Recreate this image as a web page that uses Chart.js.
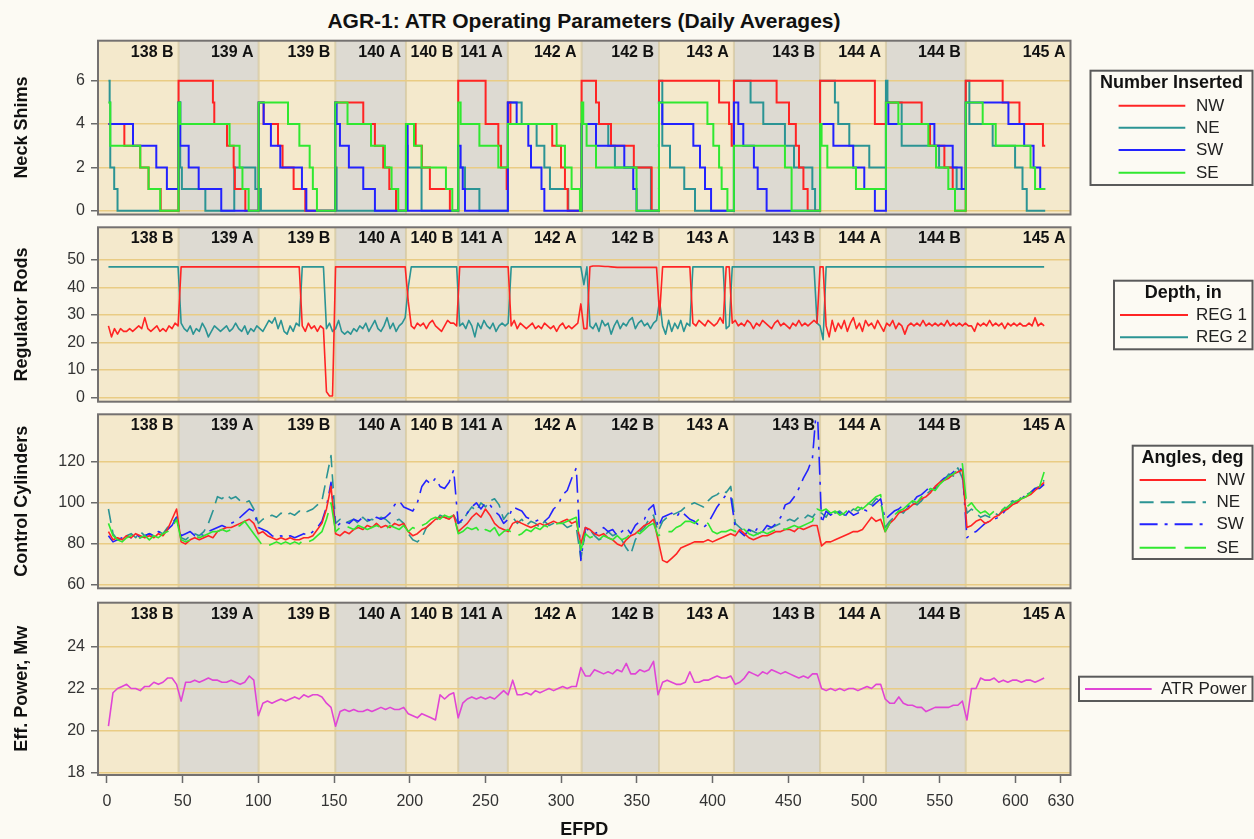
<!DOCTYPE html>
<html>
<head>
<meta charset="utf-8">
<title>AGR-1: ATR Operating Parameters</title>
<script src="https://cdn.jsdelivr.net/npm/chart.js@4.4.1/dist/chart.umd.min.js"></script>
<style>
  html, body { margin: 0; padding: 0; background: #fcfaf3; overflow: hidden; }
  #page { position: relative; width: 1254px; height: 839px; overflow: hidden; background: #fcfaf3; }
  #page canvas { position: absolute; left: 0; }
  #title { position: absolute; left: 0; top: 9px; width: 1168px; text-align: center;
           font: bold 21px "Liberation Sans", Arial, Helvetica, sans-serif; color: #111; line-height: 24px; }
</style>
</head>
<body>
<div id="page">
  <div id="title">AGR-1: ATR Operating Parameters (Daily Averages)</div>
  <canvas id="shims"></canvas>
  <canvas id="rods"></canvas>
  <canvas id="cyl"></canvas>
  <canvas id="power"></canvas>
</div>
<script>
// ---------- reactor cycles: name and the EFPD at which each one ends ----------
const cycleNames  = ['138 B','139 A','139 B','140 A','140 B','141 A','142 A','142 B','143 A','143 B','144 A','144 B','145 A'];
const cycleBreaks = [47.3, 100.2, 150.8, 197.5, 232, 264.8, 313.5, 364.6, 414.1, 471, 514.5, 567.2];

// ---------- EFPD axis ticks ----------
const efpdTicks = [0, 50, 100, 150, 200, 250, 300, 350, 400, 450, 500, 550, 600, 630];

// ---------- neck shims inserted: [EFPD, number] at every change ----------
const shimNW = [[1,4],[11.5,3],[22,2],[27.5,1],[35.5,0],[47.3,6],[70,5],[70.9,4],[79.3,3],[83.7,2],[84.5,1],[91.4,0],
  [100.2,5],[103.5,4],[113,3],[116,2],[123.3,1],[131,0],[150.8,5],[169.3,4],[177,3],[182.5,2],[186.5,1],[190.9,0],
  [197.5,4],[203.9,3],[208,2],[213.3,1],[226.5,0],[232,6],[250.1,4],[258.5,3],[260.3,2],[264,1],
  [264.8,5],[266.5,4],[294.1,3],[299.9,2],[302.5,1],[304.3,0],[313.5,6],[323,5],[325,4],[332.9,3],[348,2],[359.8,0],
  [364.6,6],[404.3,5],[410.9,4],[412.6,3],[414.1,6],[442.3,5],[450.5,4],[455,3],[457.1,2],[460,1],[462.8,0],
  [471,6],[507.2,4],[514.5,5],[538.1,4],[543.6,3],[553.1,2],[558.6,1],[560.1,0],
  [567.2,6],[591.6,5],[602.7,4],[618.2,3],[619.7,3]];
const shimNE = [[1,6],[1.8,5],[2.2,2],[4.8,1],[7,0],[47.3,5],[48.4,2],[49.5,1],[65,0],[84.1,2],[98,1],[101.7,0],
  [150.8,2],[151.7,0],[197.5,3],[198.6,2],[207.8,0],[232,2],[236.5,1],[246,0],
  [264.8,5],[273.9,4],[283.8,3],[288.9,2],[292.6,1],[304.7,0],[313.5,4],[331.1,3],[335.5,2],[359.3,0],
  [364.6,6],[366.8,3],[371.9,2],[381.3,1],[388.4,0],[414.1,6],[425.1,5],[433.5,4],[447.8,3],[453.8,2],[465.9,1],[467.7,0],
  [471,6],[480.8,5],[483,4],[490.3,3],[503.5,2],[514.5,6],[515.5,5],[524.9,3],[549.6,2],[561.2,1],
  [567.2,6],[569.6,4],[585,3],[599.8,2],[604.7,1],[607.5,0],[619.7,0]];
const shimSW = [[1,4],[17.2,3],[32.6,2],[39.6,1],[47.3,5],[48.4,3],[54,2],[60.6,1],[75.5,0],
  [100.2,5],[103.5,4],[108.3,3],[114.5,2],[128.8,1],[131.7,0],[150.8,5],[151.7,4],[153.9,3],[159.8,2],[169.3,1],[177,0],
  [197.5,4],[198.6,0],[232,3],[233.6,2],[235,1],[236.5,0],[264.8,5],[270.6,4],[278.3,3],[280.1,2],[287,1],[288.9,0],
  [313.5,4],[323,3],[341.7,2],[347.6,1],[349.8,0],[364.6,5],[366.8,4],[387.3,3],[391.7,2],[395,1],[399,0],
  [414.1,5],[417,4],[420.3,3],[427.3,2],[429.8,1],[435.7,0],[471,4],[479.8,3],[492.9,2],[500.2,1],[507.2,0],
  [514.5,5],[516.1,4],[546.5,3],[558.6,2],[564.5,1],[567.2,5],[595.4,4],[605.8,3],[612,2],[616.4,1],[619.7,1]];
const shimSE = [[1,5],[2.2,3],[22,2],[27.5,1],[35.2,0],[47.3,5],[48.4,4],[81,3],[87.6,2],[89.5,1],[93.6,0],
  [100.2,5],[119.6,4],[127.1,3],[133.9,2],[136,1],[138.7,0],[150.8,5],[158.9,4],[174.4,3],[183.6,2],[188,1],[192.4,0],
  [197.5,4],[202.8,3],[207.8,2],[223.9,1],[228.1,0],[232,5],[233.6,4],[246,3],[258.5,2],
  [264.8,4],[297,3],[302.5,2],[306.9,1],[312.4,0],[313.5,5],[314.6,4],[316.8,3],[323,2],[349.8,0],
  [364.6,5],[396.6,4],[400.5,3],[404.3,2],[406,1],[409.8,0],[414.1,3],[447.8,2],[452.2,0],
  [471,4],[472,3],[475.8,2],[494.7,1],[514.5,5],[522.7,4],[542.5,3],[547.6,2],[555.7,1],[560.1,0],
  [567.2,5],[578.4,4],[587,3],[610,2],[613,1],[619.7,1]];

// ---------- regulator rod depth, in: one value every 2nd EFPD starting at day 1 ----------
const rodDays = Array.from({ length: 310 }, (_, i) => 1 + 2 * i);
const reg1 = [
  26, 22, 25, 23, 25, 24, 24, 25, 24, 25,
  26, 25, 29, 25, 24, 25, 26, 24, 25, 24,
  26, 25, 27, 26, 47.5, 47.5, 47.5, 47.5, 47.5, 47.5,
  47.5, 47.5, 47.5, 47.5, 47.5, 47.5, 47.5, 47.5, 47.5, 47.5,
  47.5, 47.5, 47.5, 47.5, 47.5, 47.5, 47.5, 47.5, 47.5, 47.5,
  47.5, 47.5, 47.5, 47.5, 47.5, 47.5, 47.5, 47.5, 47.5, 47.5,
  47.5, 47.5, 47.5, 47.5, 26, 24, 27, 25, 26, 24,
  26, 25, 2, 0.5, 0.5, 47.5, 47.5, 47.5, 47.5, 47.5,
  47.5, 47.5, 47.5, 47.5, 47.5, 47.5, 47.5, 47.5, 47.5, 47.5,
  47.5, 47.5, 47.5, 47.5, 47.5, 47.5, 47.5, 47.5, 47.5, 35,
  26, 25, 27, 26, 27, 25, 27, 28, 26, 25,
  24, 26, 28, 27, 27, 26, 47.5, 47.5, 47.5, 47.5,
  47.5, 47.5, 47.5, 47.5, 47.5, 47.5, 47.5, 47.5, 47.5, 47.5,
  47.5, 47.5, 47.5, 26, 28, 25, 27, 26, 25, 26,
  27, 25, 26, 25, 27, 26, 25, 26, 24, 26,
  27, 25, 26, 25, 26, 27, 34, 25, 25, 47.5,
  47.8, 47.8, 47.8, 47.7, 47.6, 47.6, 47.5, 47.4, 47.3, 47.3,
  47.3, 47.3, 47.3, 47.3, 47.3, 47.3, 47.3, 47.3, 47.3, 47.3,
  47.3, 47.3, 30, 47.5, 47.5, 47.5, 47.5, 47.5, 47.5, 47.5,
  47.5, 47.5, 47.5, 27, 26, 28, 27, 26, 28, 27,
  26, 27, 29, 27, 47.5, 47.5, 27, 28, 26, 27,
  26, 28, 27, 25, 27, 26, 28, 27, 26, 25,
  27, 28, 26, 27, 26, 25, 27, 26, 28, 26,
  27, 26, 27, 28, 27, 47.5, 47.5, 26, 22, 28,
  24, 27, 25, 28, 24, 27, 29, 25, 27, 24,
  28, 26, 27, 25, 28, 26, 24, 27, 26, 28,
  25, 27, 26, 23, 26, 27, 26, 27, 26, 28,
  26, 27, 26, 27, 26, 27, 26, 28, 26, 27,
  26, 27, 26, 27, 26, 26, 24, 27, 26, 27,
  26, 28, 26, 27, 26, 27, 25, 27, 26, 27,
  26, 27, 26, 26, 27, 26, 29, 26, 27, 26
];
const reg2 = [
  47.5, 47.5, 47.5, 47.5, 47.5, 47.5, 47.5, 47.5, 47.5, 47.5,
  47.5, 47.5, 47.5, 47.5, 47.5, 47.5, 47.5, 47.5, 47.5, 47.5,
  47.5, 47.5, 47.5, 47.5, 27, 25, 24, 26, 23, 25,
  24, 27, 25, 22, 24, 26, 25, 24, 25, 26,
  24, 25, 27, 25, 24, 26, 23, 25, 24, 26,
  25, 24, 26, 28, 27, 29, 25, 28, 24, 23,
  26, 24, 27, 26, 47.5, 47.5, 47.5, 47.5, 47.5, 47.5,
  47.5, 47.5, 25, 27, 24, 25, 28, 24, 23, 24,
  23, 25, 24, 26, 25, 27, 24, 26, 28, 25,
  24, 26, 29, 25, 27, 24, 26, 27, 29, 40,
  47.5, 47.5, 47.5, 47.5, 47.5, 47.5, 47.5, 47.5, 47.5, 47.5,
  47.5, 47.5, 47.5, 47.5, 47.5, 47.5, 26, 27, 25, 28,
  26, 22, 27, 25, 28, 26, 25, 27, 24, 26,
  27, 26, 27, 47.5, 47.5, 47.5, 47.5, 47.5, 47.5, 47.5,
  47.5, 47.5, 47.5, 47.5, 47.5, 47.5, 47.5, 47.5, 47.5, 47.5,
  47.5, 47.5, 47.5, 47.5, 47.5, 47.5, 47.5, 41, 47.5, 26,
  25, 27, 24, 28, 26, 27, 23, 26, 28, 25,
  27, 26, 28, 29, 25, 27, 28, 26, 27, 25,
  27, 28, 35, 26, 23, 28, 24, 27, 25, 28,
  24, 27, 26, 47.5, 47.5, 47.5, 47.5, 47.5, 47.5, 47.5,
  47.5, 47.5, 47.5, 47.5, 25, 26, 47.5, 47.5, 47.5, 47.5,
  47.5, 47.5, 47.5, 47.5, 47.5, 47.5, 47.5, 47.5, 47.5, 47.5,
  47.5, 47.5, 47.5, 47.5, 47.5, 47.5, 47.5, 47.5, 47.5, 47.5,
  47.5, 47.5, 47.5, 47.5, 27, 26, 21, 47.5, 47.5, 47.5,
  47.5, 47.5, 47.5, 47.5, 47.5, 47.5, 47.5, 47.5, 47.5, 47.5,
  47.5, 47.5, 47.5, 47.5, 47.5, 47.5, 47.5, 47.5, 47.5, 47.5,
  47.5, 47.5, 47.5, 47.5, 47.5, 47.5, 47.5, 47.5, 47.5, 47.5,
  47.5, 47.5, 47.5, 47.5, 47.5, 47.5, 47.5, 47.5, 47.5, 47.5,
  47.5, 47.5, 47.5, 47.5, 47.5, 47.5, 47.5, 47.5, 47.5, 47.5,
  47.5, 47.5, 47.5, 47.5, 47.5, 47.5, 47.5, 47.5, 47.5, 47.5,
  47.5, 47.5, 47.5, 47.5, 47.5, 47.5, 47.5, 47.5, 47.5, 47.5
];

// ---------- control cylinder angles (deg) and ATR power (MW): every 3rd EFPD from day 1 ----------
const cylDays = Array.from({ length: 207 }, (_, i) => 1 + 3 * i);
const cylNW = [
  86, 82, 83, 82, 84, 83, 85, 84, 83, 84,
  83, 85, 84, 87, 92, 97, 81, 80, 82, 83,
  82, 83, 84, 83, 86, 87, 88, 88, 89, 90,
  91, 92, 90, 85, 86, 84, 83, 82, 83, 82,
  83, 82, 82, 83, 83, 84, 87, 90, 97, 108,
  85, 84, 86, 85, 87, 88, 87, 89, 88, 90,
  88, 89, 88, 90, 89, 90, 86, 84, 85, 87,
  88, 90, 92, 93, 93, 92, 94, 86, 88, 90,
  93, 95, 93, 97, 94, 90, 88, 87, 86, 90,
  91, 90, 89, 88, 89, 90, 89, 90, 91, 90,
  91, 92, 90, 91, 80, 88, 87, 85, 84, 85,
  83, 82, 80, 79, 82, 84, 85, 87, 89, 90,
  92, 82, 72, 71, 73, 75, 78, 79, 80, 81,
  81, 81, 82, 81, 82, 83, 84, 85, 84, 87,
  85, 83, 82, 83, 84, 84, 85, 86, 86, 87,
  87, 86, 88, 87, 88, 89, 89, 79, 81, 81,
  82, 83, 84, 85, 86, 86, 87, 90, 93, 91,
  92, 86, 90, 92, 95, 96, 97, 99, 100, 102,
  103, 105, 108, 110, 111, 112, 114, 115, 116, 88,
  89, 91, 92, 90, 91, 93, 94, 96, 97, 99,
  100, 102, 103, 104, 106, 108, 110
];
const cylNE = [
  97, 85, 82, 83, 84, 85, 83, 86, 84, 85,
  84, 86, 85, 88, 90, 93, 83, 82, 84, 85,
  84, 86, 90, 96, 103, 102, 104, 102, 103, 101,
  100, 101, 97, 90, 92, 93, 94, 93, 95, 94,
  95, 94, 96, 95, 96, 97, 99, 101, 112, 123,
  90, 92, 90, 91, 92, 90, 93, 91, 92, 91,
  93, 92, 90, 91, 92, 90, 85, 82, 81, 83,
  88, 90, 91, 94, 93, 92, 94, 90, 91, 95,
  98, 96, 100, 98, 101, 102, 99, 92, 95, 93,
  90, 92, 89, 91, 90, 88, 91, 89, 90, 91,
  90, 88, 89, 88, 73, 86, 87, 84, 82, 83,
  86, 84, 85, 82, 78, 75, 82, 86, 88, 92,
  94, 86, 91, 93, 94, 95, 96, 98, 99, 100,
  99, 98, 101, 103, 104, 106, 105, 108, 90, 88,
  86, 87, 86, 85, 86, 87, 88, 89, 90, 91,
  92, 91, 93, 92, 94, 93, 96, 95, 93, 97,
  95, 96, 94, 95, 97, 96, 98, 100, 99, 102,
  101, 88, 91, 93, 96, 95, 98, 100, 99, 101,
  104, 106, 107, 109, 111, 114, 113, 117, 112, 95,
  97, 95, 93, 94, 93, 95, 94, 97, 99, 101,
  100, 103, 104, 105, 107, 108, 111
];
const cylSW = [
  84, 81, 82, 83, 84, 83, 85, 83, 84, 85,
  84, 86, 85, 87, 89, 93, 84, 85, 86, 84,
  85, 84, 86, 87, 88, 89, 88, 90, 91, 93,
  95, 97, 96, 88, 87, 86, 84, 83, 84, 83,
  84, 83, 84, 85, 84, 86, 88, 91, 98, 110,
  88, 90, 91, 90, 92, 91, 93, 92, 91, 93,
  92, 93, 95, 99, 101, 98, 97, 96, 100, 108,
  111, 109, 112, 108, 107, 110, 116, 90, 92, 95,
  98, 100, 97, 100, 99, 96, 94, 90, 92, 98,
  97, 96, 93, 92, 91, 92, 91, 93, 97, 99,
  104, 106, 112, 117, 72, 88, 86, 85, 86, 88,
  86, 87, 84, 86, 88, 85, 89, 91, 92, 97,
  99, 88, 93, 94, 95, 93, 96, 94, 92, 91,
  89, 88, 90, 94, 98, 101, 104, 103, 88, 86,
  84, 87, 85, 88, 86, 89, 88, 90, 93, 99,
  100, 103, 107, 112, 116, 122, 150, 90, 96, 94,
  96, 95, 93, 96, 94, 95, 97, 96, 98, 100,
  102, 92, 94, 96, 97, 99, 98, 100, 103, 104,
  106, 108, 107, 110, 112, 113, 115, 117, 116, 83,
  85, 86, 88, 90, 91, 92, 93, 95, 98, 100,
  101, 102, 104, 105, 107, 107, 109
];
const cylSE = [
  90, 84, 82, 81, 83, 84, 82, 83, 84, 82,
  84, 83, 85, 86, 88, 92, 82, 81, 82, 84,
  83, 84, 85, 86, 86, 87, 86, 87, 88, 89,
  91, 88, 85, 82, 79, 79, 80, 81, 80, 81,
  80, 81, 80, 82, 81, 82, 84, 86, 92, 100,
  86, 88, 89, 88, 87, 89, 88, 87, 88, 89,
  88, 87, 89, 88, 87, 89, 86, 88, 87, 89,
  90, 92, 93, 92, 94, 93, 94, 85, 86, 88,
  87, 88, 85, 87, 86, 88, 84, 86, 87, 85,
  84, 85, 87, 86, 88, 87, 89, 88, 89, 90,
  90, 91, 92, 93, 77, 85, 83, 84, 82, 84,
  83, 82, 84, 82, 83, 85, 86, 85, 87, 89,
  90, 84, 85, 86, 86, 88, 89, 91, 91, 90,
  92, 91, 90, 86, 85, 86, 86, 87, 86, 88,
  87, 85, 84, 85, 86, 85, 86, 87, 88, 87,
  88, 89, 88, 89, 90, 91, 97, 96, 97, 95,
  96, 94, 95, 97, 96, 98, 97, 99, 101, 103,
  104, 86, 90, 94, 96, 97, 99, 101, 100, 103,
  105, 107, 106, 109, 111, 113, 114, 116, 119, 98,
  100, 97, 95, 96, 94, 96, 95, 97, 98, 100,
  101, 102, 103, 105, 106, 108, 115
];
const atrPower = [
  20.2, 21.8, 22.0, 22.1, 22.2, 22.0, 22.0, 21.9, 22.1, 22.1,
  22.3, 22.2, 22.3, 22.5, 22.5, 22.2, 21.4, 22.3, 22.3, 22.4,
  22.3, 22.4, 22.5, 22.4, 22.4, 22.3, 22.3, 22.4, 22.3, 22.2,
  22.3, 22.6, 22.4, 20.7, 21.3, 21.4, 21.3, 21.4, 21.5, 21.4,
  21.5, 21.6, 21.5, 21.7, 21.6, 21.7, 21.7, 21.6, 21.3, 21.1,
  20.2, 20.9, 21.0, 20.9, 21.0, 20.9, 20.9, 21.0, 20.9, 21.0,
  21.1, 21.0, 21.1, 21.0, 21.0, 21.1, 20.8, 20.7, 20.6, 20.8,
  20.7, 20.6, 20.5, 21.7, 21.5, 21.7, 21.8, 20.6, 21.3, 21.5,
  21.6, 21.5, 21.6, 21.5, 21.6, 21.5, 21.7, 21.9, 21.7, 22.4,
  21.7, 21.7, 21.8, 21.7, 21.9, 21.8, 21.9, 22.0, 21.9, 22.0,
  22.1, 22.0, 22.1, 22.1, 23.0, 22.6, 22.6, 22.9, 22.8, 22.7,
  22.8, 22.7, 22.9, 22.8, 23.2, 22.7, 22.7, 22.9, 22.8, 22.9,
  23.3, 21.7, 22.3, 22.4, 22.3, 22.2, 22.2, 22.3, 22.8, 22.3,
  22.3, 22.4, 22.4, 22.5, 22.6, 22.5, 22.5, 22.6, 22.2, 22.3,
  22.5, 22.8, 22.7, 22.6, 22.8, 22.7, 22.9, 22.8, 22.7, 22.8,
  22.7, 22.6, 22.5, 22.6, 22.5, 22.7, 22.7, 22.0, 21.9, 22.0,
  21.9, 22.0, 21.9, 22.0, 22.0, 21.9, 22.0, 22.1, 22.0, 22.2,
  22.2, 21.5, 21.3, 21.3, 21.6, 21.3, 21.2, 21.2, 21.1, 21.1,
  20.9, 21.0, 21.1, 21.1, 21.1, 21.1, 21.2, 21.2, 21.4, 20.5,
  22.0, 22.0, 22.5, 22.4, 22.4, 22.5, 22.3, 22.4, 22.3, 22.4,
  22.4, 22.3, 22.4, 22.4, 22.3, 22.4, 22.5
];

// ---------- look ----------
const FONT = '"Liberation Sans", Arial, Helvetica, sans-serif';
const COL = { red: '#ff2424', teal: '#2b9494', blue: '#2222ff', green: '#30e830', pink: '#e045d5' };
const PAGE_BG = '#fcfaf3', TAN = '#f4e9cc', GREY = '#dddad2', GOLD = '#e9cc84';
const PAGE_W = 1254, FRAME_LEFT = 98, FRAME_RIGHT = 1070.5, X_MIN = -5.9, X_MAX = 636.4;

const pairs = a => a.map(([x, y]) => ({ x, y }));
const zipXY = (xs, ys) => xs.map((x, i) => ({ x, y: ys[i] }));

// shaded cycle bands, cycle names and the frame around each panel
const cyclePlugin = {
  id: 'cycles',
  beforeDraw(chart) {
    const { ctx, chartArea: a, scales: { x } } = chart;
    const edges = [x.min, ...cycleBreaks, x.max];
    ctx.save();
    for (let i = 0; i < cycleNames.length; i++) {
      const x0 = x.getPixelForValue(edges[i]), x1 = x.getPixelForValue(edges[i + 1]);
      ctx.fillStyle = i % 2 ? GREY : TAN;
      ctx.fillRect(x0, a.top, x1 - x0, a.bottom - a.top);
    }
    ctx.strokeStyle = 'rgba(205,190,140,0.55)';
    ctx.lineWidth = 2;
    cycleBreaks.forEach(b => {
      const px = x.getPixelForValue(b);
      ctx.beginPath(); ctx.moveTo(px, a.top); ctx.lineTo(px, a.bottom); ctx.stroke();
    });
    ctx.restore();
  },
  beforeDatasetsDraw(chart) {
    const { ctx, chartArea: a, scales: { x } } = chart;
    const edges = [...cycleBreaks, x.max];
    ctx.save();
    ctx.font = 'bold 16px ' + FONT;
    ctx.fillStyle = '#111';
    ctx.textAlign = 'right';
    ctx.textBaseline = 'middle';
    cycleNames.forEach((n, i) => ctx.fillText(n, x.getPixelForValue(edges[i]) - 5, a.top + 11.5));
    ctx.restore();
  },
  afterDraw(chart) {
    const { ctx, chartArea: a } = chart;
    ctx.save();
    ctx.strokeStyle = '#747170';
    ctx.lineWidth = 2;
    ctx.strokeRect(a.left, a.top, a.right - a.left, a.bottom - a.top);
    ctx.restore();
  }
};

// boxed legend built from the chart's own datasets
function boxLegend(spec, canvasTop) {
  return {
    id: 'boxLegend',
    afterDraw(chart) {
      const ctx = chart.ctx;
      const [x0, y0, x1, y1] = spec.box;
      ctx.save();
      ctx.fillStyle = PAGE_BG;
      ctx.fillRect(x0, y0 - canvasTop, x1 - x0, y1 - y0);
      ctx.strokeStyle = '#5a5a5a';
      ctx.lineWidth = 2;
      ctx.strokeRect(x0, y0 - canvasTop, x1 - x0, y1 - y0);
      ctx.textBaseline = 'middle';
      if (spec.title) {
        ctx.font = 'bold 18px ' + FONT;
        ctx.fillStyle = '#111';
        ctx.textAlign = 'center';
        ctx.fillText(spec.title, (x0 + x1) / 2, spec.titleY - canvasTop);
      }
      ctx.font = '17px ' + FONT;
      ctx.textAlign = 'left';
      chart.data.datasets.forEach((ds, i) => {
        const y = spec.rows[i] - canvasTop;
        ctx.strokeStyle = ds.borderColor;
        ctx.lineWidth = 2;
        ctx.setLineDash(ds.borderDash || []);
        ctx.beginPath(); ctx.moveTo(spec.lineX[0], y); ctx.lineTo(spec.lineX[1], y); ctx.stroke();
        ctx.setLineDash([]);
        ctx.fillStyle = '#222';
        ctx.fillText(ds.label, spec.labelX, y + 0.5);
      });
      ctx.restore();
    }
  };
}

function makePanel(id, cfg) {
  const canvas = document.getElementById(id);
  const canvasTop = Math.floor(cfg.top) - 6;
  const canvasBottom = cfg.showX ? 842 : Math.ceil(cfg.bottom) + 6;
  canvas.width = PAGE_W;
  canvas.height = canvasBottom - canvasTop;
  canvas.style.top = canvasTop + 'px';
  canvas.style.width = PAGE_W + 'px';
  canvas.style.height = (canvasBottom - canvasTop) + 'px';

  new Chart(canvas, {
    type: 'line',
    data: { datasets: cfg.datasets },
    options: {
      responsive: false,
      animation: false,
      devicePixelRatio: 1,
      events: [],
      layout: {
        padding: {
          left: 0,
          right: PAGE_W - FRAME_RIGHT,
          top: cfg.top - canvasTop,
          bottom: cfg.showX ? 0 : canvasBottom - cfg.bottom
        }
      },
      elements: { point: { radius: 0 }, line: { tension: 0 } },
      plugins: { legend: { display: false }, tooltip: { enabled: false } },
      scales: {
        x: {
          type: 'linear',
          min: X_MIN,
          max: X_MAX,
          display: !!cfg.showX,
          afterBuildTicks(s) { s.ticks = efpdTicks.map(v => ({ value: v })); },
          afterFit(s) {
            s.height = cfg.showX ? canvasBottom - cfg.bottom : 0;
            s.paddingLeft = 0; s.paddingRight = 0;
          },
          grid: { display: true, drawOnChartArea: false, drawTicks: true, tickLength: 8,
                  tickColor: '#6a6a6a', tickWidth: 1.5 },
          border: { display: false },
          ticks: { autoSkip: false, maxRotation: 0, color: '#333', padding: 9,
                   font: { family: FONT, size: 16 } },
          title: { display: true, text: 'EFPD', color: '#111', padding: { top: 0, bottom: 1 },
                   font: { family: FONT, size: 18, weight: 'bold' } }
        },
        y: {
          type: 'linear',
          min: cfg.yMin,
          max: cfg.yMax,
          afterBuildTicks(s) { s.ticks = cfg.yTicks.map(v => ({ value: v })); },
          afterFit(s) { s.width = FRAME_LEFT; s.paddingTop = 0; s.paddingBottom = 0; },
          grid: { color: GOLD, lineWidth: 1.5, drawTicks: true, tickLength: 7,
                  tickColor: '#6a6a6a', tickWidth: 1.5 },
          border: { display: false },
          ticks: { color: '#333', padding: 6, font: { family: FONT, size: 16 } },
          title: { display: true, text: cfg.yTitle, color: '#111', padding: { top: 11, bottom: 0 },
                   font: { family: FONT, size: 18, weight: 'bold' } }
        }
      }
    },
    plugins: [cyclePlugin, boxLegend(cfg.legend, canvasTop)]
  });
}

const stepLine = (label, pts, color, order) => ({
  label, data: pairs(pts), borderColor: color, borderWidth: 2, stepped: 'before',
  borderJoinStyle: 'miter', order
});
const trace = (label, days, vals, color, extra) => Object.assign({
  label, data: zipXY(days, vals), borderColor: color, borderWidth: 1.6,
  borderJoinStyle: 'round'
}, extra || {});

// ---------- panel 1: neck shims ----------
makePanel('shims', {
  top: 40.7, bottom: 214.5, yMin: -0.175, yMax: 7.85, yTicks: [0, 2, 4, 6], yTitle: 'Neck Shims',
  datasets: [
    stepLine('NW', shimNW, COL.red, 2),
    stepLine('NE', shimNE, COL.teal, 3),
    stepLine('SW', shimSW, COL.blue, 1),
    stepLine('SE', shimSE, COL.green, 0)
  ],
  legend: { box: [1090.5, 70.7, 1252.5, 185], title: 'Number Inserted', titleY: 83.5,
            lineX: [1118.6, 1185.3], labelX: 1196, rows: [105.7, 127.7, 150, 172.7] }
});

// ---------- panel 2: regulator rods ----------
makePanel('rods', {
  top: 227.3, bottom: 401.7, yMin: -1.6, yMax: 61.9, yTicks: [0, 10, 20, 30, 40, 50], yTitle: 'Regulator Rods',
  datasets: [
    trace('REG 1', rodDays, reg1, COL.red, { order: 0 }),
    trace('REG 2', rodDays, reg2, COL.teal, { order: 1 })
  ],
  legend: { box: [1114, 280.7, 1252.5, 349.3], title: 'Depth, in', titleY: 293,
            lineX: [1120, 1188], labelX: 1196, rows: [315, 337.3] }
});

// ---------- panel 3: control cylinders ----------
makePanel('cyl', {
  top: 414.3, bottom: 588.3, yMin: 58.4, yMax: 143.1, yTicks: [60, 80, 100, 120], yTitle: 'Control Cylinders',
  datasets: [
    trace('NW', cylDays, cylNW, COL.red, { order: 1 }),
    trace('NE', cylDays, cylNE, COL.teal, { order: 3, borderDash: [14, 7] }),
    trace('SW', cylDays, cylSW, COL.blue, { order: 2, borderDash: [18, 7, 3, 7] }),
    trace('SE', cylDays, cylSE, COL.green, { order: 0, borderDash: [36, 9] })
  ],
  legend: { box: [1132.7, 445.7, 1252.5, 559], title: 'Angles, deg', titleY: 458,
            lineX: [1139.6, 1206], labelX: 1216.5, rows: [480, 502.3, 524.3, 547.7] }
});

// ---------- panel 4: effective ATR power ----------
makePanel('power', {
  top: 602.7, bottom: 775, yMin: 17.87, yMax: 26.1, yTicks: [18, 20, 22, 24], yTitle: 'Eff. Power, Mw',
  showX: true,
  datasets: [ trace('ATR Power', cylDays, atrPower, COL.pink) ],
  legend: { box: [1079, 676.7, 1252.5, 701], title: '', titleY: 0,
            lineX: [1085, 1151.7], labelX: 1161, rows: [689] }
});
</script>
</body>
</html>
